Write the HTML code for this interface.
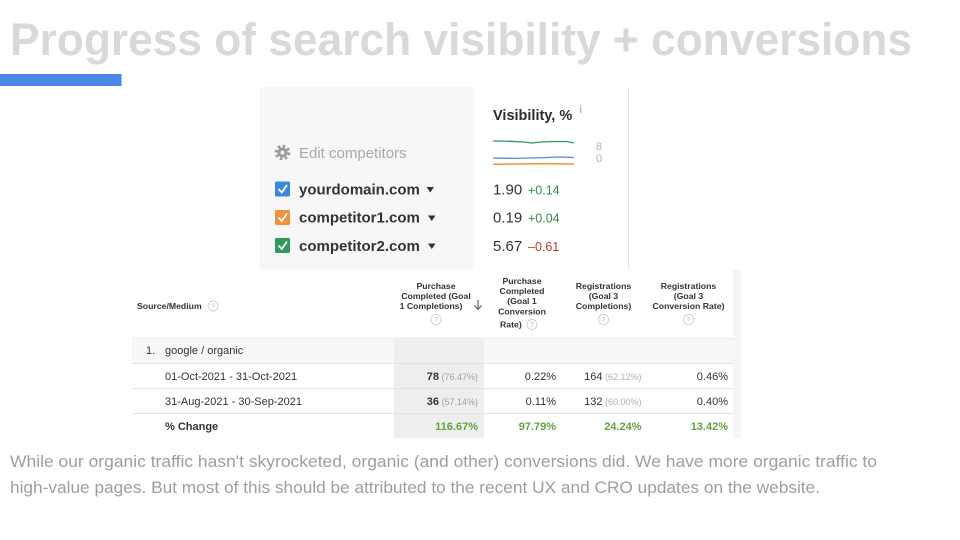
<!DOCTYPE html>
<html>
<head>
<meta charset="utf-8">
<style>
  html, body { margin:0; padding:0; background:#fff; }
  body { width:960px; height:540px; overflow:hidden; }
  svg { display:block; font-family:"Liberation Sans", Arial, sans-serif; }
</style>
</head>
<body>
<svg width="960" height="540" viewBox="0 0 960 540" xmlns="http://www.w3.org/2000/svg">
  <rect x="0" y="0" width="960" height="540" fill="#ffffff"/>

  <!-- Title -->
  <text x="10" y="55" font-size="45" font-weight="bold" fill="#d9d9d9" textLength="902" lengthAdjust="spacingAndGlyphs">Progress of search visibility + conversions</text>
  <rect x="0" y="74" width="121.5" height="12" fill="#4a86e8"/>

  <!-- Top panel -->
  <rect x="260" y="87" width="214" height="183" fill="#f7f7f9"/>
  <rect x="474" y="87" width="154" height="183" fill="#ffffff"/>
  <line x1="628.5" y1="87" x2="628.5" y2="270" stroke="#e6e6e8" stroke-width="1"/>

  <text x="493" y="120" font-size="14.5" font-weight="bold" fill="#2b2b2b">Visibility, %</text>
  <text x="579.5" y="113" font-size="11" fill="#999">i</text>

  <!-- sparklines -->
  <path d="M493 141 L510 141.3 L524 142 L532 143 L541 142 L555 141.5 L567 141.5 L574 143" fill="none" stroke="#2e9a5c" stroke-width="1.3"/>
  <path d="M493 158 L514 158.4 L530 158 L546 157.5 L560 157 L574 157.5" fill="none" stroke="#4a8fdb" stroke-width="1.3"/>
  <path d="M493 164.2 L520 164 L540 163.6 L574 164" fill="none" stroke="#f2923a" stroke-width="1.5"/>
  <text x="596" y="150" font-size="11" fill="#b0b0b0">8</text>
  <text x="596" y="162" font-size="11" fill="#b0b0b0">0</text>

  <!-- gear -->
  <g transform="translate(282.5,152.5)">
    <circle r="6.3" fill="none" stroke="#9a9a9a" stroke-width="3" stroke-dasharray="2.6 2.35"/>
    <circle r="5" fill="#9a9a9a"/>
    <circle r="2" fill="#f7f7f9"/>
  </g>
  <text x="299" y="158" font-size="15" fill="#a8a8a8">Edit competitors</text>

  <!-- checkboxes -->
  <rect x="275" y="181.5" width="15" height="15" rx="1.5" fill="#3b87d9"/>
  <polyline points="278.5,189 281.8,192.5 287,185" fill="none" stroke="#fff" stroke-width="1.8"/>
  <rect x="275" y="210" width="15" height="15" rx="1.5" fill="#f2923a"/>
  <polyline points="278.5,217.5 281.8,221 287,213.5" fill="none" stroke="#fff" stroke-width="1.8"/>
  <rect x="275" y="238" width="15" height="15" rx="1.5" fill="#2f9a5a"/>
  <polyline points="278.5,245.5 281.8,249 287,241.5" fill="none" stroke="#fff" stroke-width="1.8"/>

  <text x="299" y="194.5" font-size="15" font-weight="bold" fill="#333">yourdomain.com</text>
  <polygon points="426.5,187 434,187 430.25,192.5" fill="#333"/>
  <text x="299" y="222.5" font-size="15" font-weight="bold" fill="#333">competitor1.com</text>
  <polygon points="428,215.5 435.5,215.5 431.75,221" fill="#333"/>
  <text x="299" y="251" font-size="15" font-weight="bold" fill="#333">competitor2.com</text>
  <polygon points="428,243.5 435.5,243.5 431.75,249" fill="#333"/>

  <text x="493" y="194.5" font-size="15" fill="#333">1.90</text>
  <text x="528" y="194.5" font-size="12.5" fill="#2e8b4e">+0.14</text>
  <text x="493" y="222.5" font-size="15" fill="#333">0.19</text>
  <text x="528" y="222.5" font-size="12.5" fill="#2e8b4e">+0.04</text>
  <text x="493" y="251" font-size="15" fill="#333">5.67</text>
  <text x="528" y="251" font-size="12.5" fill="#c0392b">–0.61</text>

  <!-- Table -->
  <rect x="733" y="270" width="8" height="168" fill="#f6f6f7"/>
  <rect x="132" y="338" width="601" height="25" fill="#f7f7f7"/>
  <rect x="394" y="338" width="90" height="100" fill="#eeeeee"/>
  <line x1="132" y1="338" x2="733" y2="338" stroke="#ececec" stroke-width="1"/>
  <line x1="132" y1="363.5" x2="733" y2="363.5" stroke="#e4e4e4" stroke-width="1"/>
  <line x1="132" y1="388.5" x2="733" y2="388.5" stroke="#e4e4e4" stroke-width="1"/>
  <line x1="132" y1="413.5" x2="733" y2="413.5" stroke="#e4e4e4" stroke-width="1"/>

  <g font-size="8.7" font-weight="bold" fill="#333">
    <text x="137" y="309">Source/Medium</text>

    <text x="436" y="289" text-anchor="middle">Purchase</text>
    <text x="436" y="299" text-anchor="middle">Completed (Goal</text>
    <text x="431" y="309" text-anchor="middle">1 Completions)</text>

    <text x="522" y="284" text-anchor="middle">Purchase</text>
    <text x="522" y="294" text-anchor="middle">Completed</text>
    <text x="522" y="304" text-anchor="middle">(Goal 1</text>
    <text x="522" y="314.5" text-anchor="middle">Conversion</text>
    <text x="500" y="327.5">Rate)</text>

    <text x="603.5" y="289" text-anchor="middle">Registrations</text>
    <text x="603.5" y="299" text-anchor="middle">(Goal 3</text>
    <text x="603.5" y="309" text-anchor="middle">Completions)</text>

    <text x="688.5" y="289" text-anchor="middle">Registrations</text>
    <text x="688.5" y="299" text-anchor="middle">(Goal 3</text>
    <text x="688.5" y="309" text-anchor="middle">Conversion Rate)</text>
  </g>
  <!-- sort arrow -->
  <path d="M478 300 L478 309 M474.5 305.5 L478 309.5 L481.5 305.5" fill="none" stroke="#666" stroke-width="1.2"/>

  <!-- help circles -->
  <g fill="none" stroke="#d0d0d0" stroke-width="0.9">
    <circle cx="213" cy="306" r="5"/>
    <circle cx="436" cy="319.5" r="5"/>
    <circle cx="532" cy="324.5" r="5"/>
    <circle cx="603.5" cy="319.5" r="5"/>
    <circle cx="688.5" cy="319.5" r="5"/>
  </g>
  <g font-size="7" fill="#bbbbbb" text-anchor="middle">
    <text x="213" y="308.5">?</text>
    <text x="436" y="322">?</text>
    <text x="532" y="327">?</text>
    <text x="603.5" y="322">?</text>
    <text x="688.5" y="322">?</text>
  </g>

  <g font-size="11" fill="#333">
    <text x="146" y="354">1.</text>
    <text x="165" y="354">google / organic</text>
    <text x="165" y="380">01-Oct-2021 - 31-Oct-2021</text>
    <text x="165" y="405">31-Aug-2021 - 30-Sep-2021</text>
    <text x="165" y="430" font-weight="bold">% Change</text>

    <text x="478" y="380" text-anchor="end"><tspan font-weight="bold">78</tspan><tspan font-size="9" fill="#a0a0a0"> (76.47%)</tspan></text>
    <text x="478" y="405" text-anchor="end"><tspan font-weight="bold">36</tspan><tspan font-size="9" fill="#a0a0a0"> (57.14%)</tspan></text>

    <text x="556" y="380" text-anchor="end">0.22%</text>
    <text x="556" y="405" text-anchor="end">0.11%</text>

    <text x="641.5" y="380" text-anchor="end">164<tspan font-size="9" fill="#b0b0b0"> (62.12%)</tspan></text>
    <text x="641.5" y="405" text-anchor="end">132<tspan font-size="9" fill="#b0b0b0"> (60.00%)</tspan></text>

    <text x="728" y="380" text-anchor="end">0.46%</text>
    <text x="728" y="405" text-anchor="end">0.40%</text>
  </g>
  <g font-size="11" font-weight="bold" fill="#62a340" text-anchor="end">
    <text x="478" y="430">116.67%</text>
    <text x="556" y="430">97.79%</text>
    <text x="641.5" y="430">24.24%</text>
    <text x="728" y="430">13.42%</text>
  </g>

  <!-- Paragraph -->
  <text x="10" y="467" font-size="17" fill="#9e9e9e" textLength="867" lengthAdjust="spacingAndGlyphs">While our organic traffic hasn't skyrocketed, organic (and other) conversions did. We have more organic traffic to</text>
  <text x="10" y="493" font-size="17" fill="#9e9e9e" textLength="810" lengthAdjust="spacingAndGlyphs">high-value pages. But most of this should be attributed to the recent UX and CRO updates on the website.</text>
</svg>
</body>
</html>
